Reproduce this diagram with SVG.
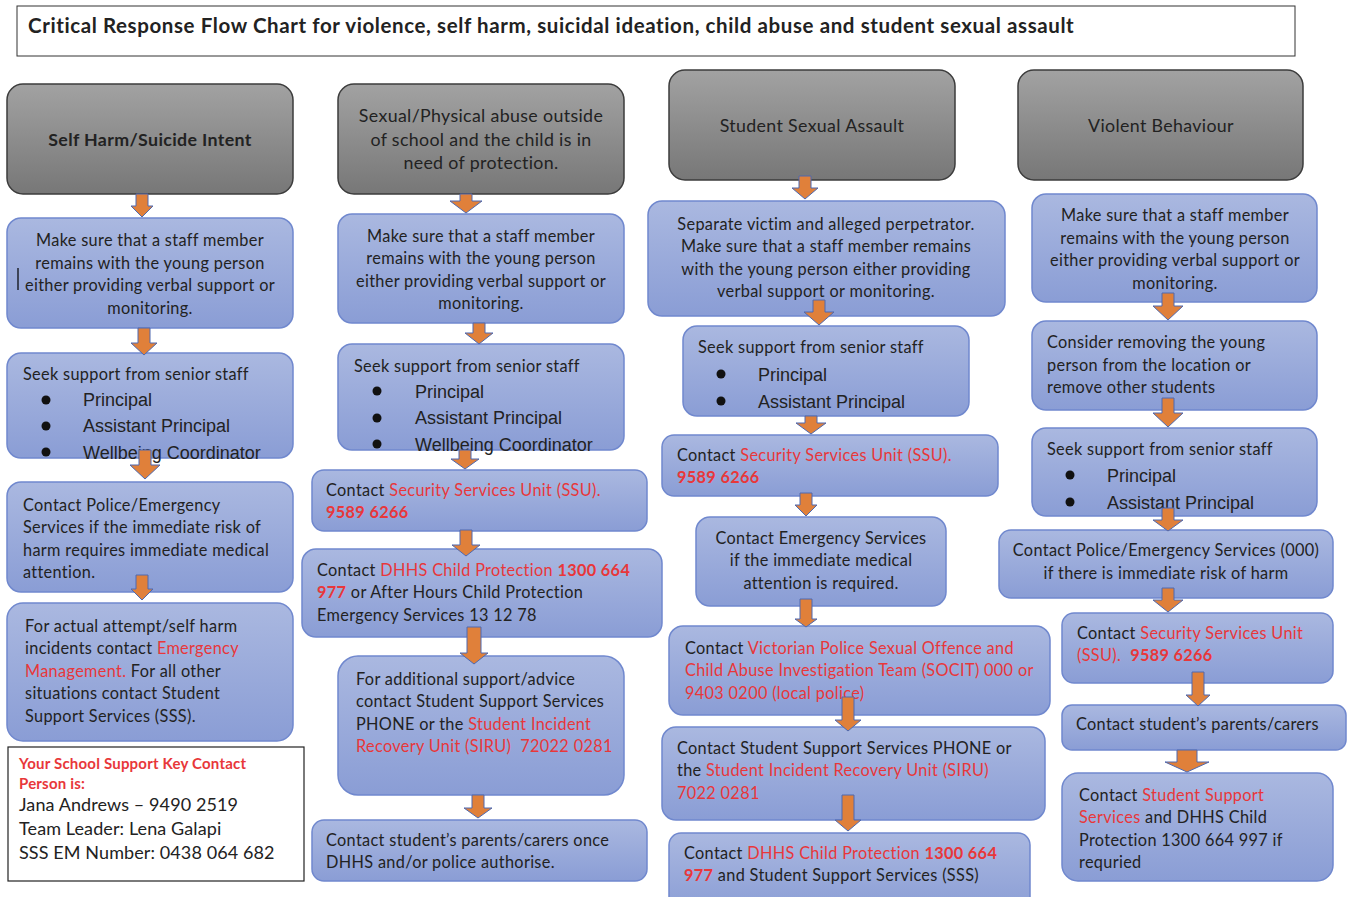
<svg xmlns="http://www.w3.org/2000/svg" width="1351" height="897" viewBox="0 0 1351 897">
<defs>
<linearGradient id="gb" x1="0" y1="0" x2="0" y2="1"><stop offset="0" stop-color="#AAB8E0"/><stop offset="1" stop-color="#8A9DD5"/></linearGradient>
<linearGradient id="gg" x1="0" y1="0" x2="0" y2="1"><stop offset="0" stop-color="#A2A2A2"/><stop offset="1" stop-color="#777777"/></linearGradient>
<style>
.b{fill:url(#gb);stroke:#7088CE;stroke-width:1.5}
.g{fill:url(#gg);stroke:#3C3C3C;stroke-width:1.5}
text{font-family:Lato,"Liberation Sans",sans-serif;font-size:16.3px;letter-spacing:0.33px;fill:#222}
.c{text-anchor:middle}
.h{font-size:17.8px;letter-spacing:0.35px}
.bl{font-family:"Liberation Sans",Arial,sans-serif;font-size:18px;letter-spacing:0}
.r{fill:#E8373A}
.rb{fill:#E8373A;font-weight:bold}
.ar{fill:#E0803A;stroke:#4E69B0;stroke-width:1}
.dot{fill:#111}
</style>
</defs>
<rect width="1351" height="897" fill="#fff"/>
<g id="title">
<rect x="17" y="6" width="1278" height="50" fill="#fff" stroke="#333" stroke-width="1"/>
<text x="28" y="33" style="font-weight:bold;font-size:20.5px;letter-spacing:0.6px">Critical Response Flow Chart for violence, self harm, suicidal ideation, child abuse and student sexual assault</text>
</g>

<!-- Column 1 -->
<g id="c1h"><rect class="g" x="7" y="84" width="286" height="110" rx="16"/><text class="c h" x="150" y="146" style="font-weight:bold">Self Harm/Suicide Intent</text></g>
<g id="c1n1"><rect class="b" x="7" y="218" width="286" height="110" rx="14"/>
<text class="c" x="150" y="246">Make sure that a staff member</text>
<text class="c" x="150" y="269">remains with the young person</text>
<text class="c" x="150" y="291">either providing verbal support or</text>
<text class="c" x="150" y="314">monitoring.</text>
<line x1="18" y1="268" x2="18" y2="290" stroke="#000" stroke-width="1.2"/></g>
<g id="c1n2"><rect class="b" x="7" y="353" width="286" height="105" rx="14"/>
<text x="23" y="380">Seek support from senior staff</text>
<circle class="dot" cx="46" cy="400" r="4.5"/><text class="bl" x="83" y="406">Principal</text>
<circle class="dot" cx="46" cy="426" r="4.5"/><text class="bl" x="83" y="432">Assistant Principal</text>
<circle class="dot" cx="46" cy="452" r="4.5"/><text class="bl" x="83" y="459">Wellbeing Coordinator</text></g>
<g id="c1n3"><rect class="b" x="7" y="482" width="286" height="110" rx="14"/>
<text x="23" y="511">Contact Police/Emergency</text>
<text x="23" y="533">Services if the immediate risk of</text>
<text x="23" y="556">harm requires immediate medical</text>
<text x="23" y="578">attention.</text></g>
<g id="c1n4"><rect class="b" x="7" y="603" width="286" height="138" rx="16"/>
<text x="25" y="632">For actual attempt/self harm</text>
<text x="25" y="654">incidents contact <tspan class="r">Emergency</tspan></text>
<text x="25" y="677"><tspan class="r">Management.</tspan> For all other</text>
<text x="25" y="699">situations contact Student</text>
<text x="25" y="722">Support Services (SSS).</text></g>
<g id="keycontact"><rect x="8" y="747" width="296" height="134" fill="#fff" stroke="#222" stroke-width="1.2"/>
<text x="19" y="769" class="rb" style="font-size:15px;letter-spacing:0.2px">Your School Support Key Contact</text>
<text x="19" y="789" class="rb" style="font-size:15px;letter-spacing:0.2px">Person is:</text>
<text x="19" y="811" style="font-size:18px;letter-spacing:0.1px">Jana Andrews – 9490 2519</text>
<text x="19" y="835" style="font-size:18px;letter-spacing:0.1px">Team Leader: Lena Galapi</text>
<text x="19" y="859" style="font-size:18px;letter-spacing:0.1px">SSS EM Number: 0438 064 682</text></g>

<!-- Column 2 -->
<g id="c2h"><rect class="g" x="338" y="84" width="286" height="110" rx="16"/>
<text class="c h" x="481" y="122">Sexual/Physical abuse outside</text>
<text class="c h" x="481" y="146">of school and the child is in</text>
<text class="c h" x="481" y="169">need of protection.</text></g>
<g id="c2n1"><rect class="b" x="338" y="214" width="286" height="109" rx="14"/>
<text class="c" x="481" y="242">Make sure that a staff member</text>
<text class="c" x="481" y="264">remains with the young person</text>
<text class="c" x="481" y="287">either providing verbal support or</text>
<text class="c" x="481" y="309">monitoring.</text></g>
<g id="c2n2"><rect class="b" x="338" y="344" width="286" height="106" rx="14"/>
<text x="354" y="372">Seek support from senior staff</text>
<circle class="dot" cx="377" cy="391" r="4.5"/><text class="bl" x="415" y="398">Principal</text>
<circle class="dot" cx="377" cy="418" r="4.5"/><text class="bl" x="415" y="424">Assistant Principal</text>
<circle class="dot" cx="377" cy="444" r="4.5"/><text class="bl" x="415" y="451">Wellbeing Coordinator</text></g>
<g id="c2n3"><rect class="b" x="312" y="470" width="335" height="61" rx="12"/>
<text x="326" y="496">Contact <tspan class="r">Security Services Unit (SSU).</tspan></text>
<text x="326" y="518" class="rb">9589 6266</text></g>
<g id="c2n4"><rect class="b" x="302" y="549" width="360" height="88" rx="14"/>
<text x="317" y="576">Contact <tspan class="r">DHHS Child Protection </tspan><tspan class="rb">1300 664</tspan></text>
<text x="317" y="598"><tspan class="rb">977</tspan> or After Hours Child Protection</text>
<text x="317" y="621">Emergency Services 13 12 78</text></g>
<g id="c2n5"><rect class="b" x="338" y="656" width="286" height="139" rx="20"/>
<text x="356" y="685">For additional support/advice</text>
<text x="356" y="707">contact Student Support Services</text>
<text x="356" y="730">PHONE or the <tspan class="r">Student Incident</tspan></text>
<text x="356" y="752" class="r">Recovery Unit (SIRU)&#160; 72022 0281</text></g>
<g id="c2n6"><rect class="b" x="312" y="820" width="335" height="61" rx="12"/>
<text x="326" y="846">Contact student’s parents/carers once</text>
<text x="326" y="868">DHHS and/or police authorise.</text></g>

<!-- Column 3 -->
<g id="c3h"><rect class="g" x="669" y="70" width="286" height="110" rx="16"/>
<text class="c h" x="812" y="132">Student Sexual Assault</text></g>
<g id="c3n1"><rect class="b" x="648" y="201" width="357" height="115" rx="14"/>
<text class="c" x="826" y="230">Separate victim and alleged perpetrator.</text>
<text class="c" x="826" y="252">Make sure that a staff member remains</text>
<text class="c" x="826" y="275">with the young person either providing</text>
<text class="c" x="826" y="297">verbal support or monitoring.</text></g>
<g id="c3n2"><rect class="b" x="683" y="326" width="286" height="90" rx="14"/>
<text x="698" y="353">Seek support from senior staff</text>
<circle class="dot" cx="721" cy="374" r="4.5"/><text class="bl" x="758" y="381">Principal</text>
<circle class="dot" cx="721" cy="401" r="4.5"/><text class="bl" x="758" y="408">Assistant Principal</text></g>
<g id="c3n3"><rect class="b" x="662" y="435" width="336" height="61" rx="12"/>
<text x="677" y="461">Contact <tspan class="r">Security Services Unit (SSU).</tspan></text>
<text x="677" y="483" class="rb">9589 6266</text></g>
<g id="c3n4"><rect class="b" x="696" y="517" width="250" height="89" rx="14"/>
<text class="c" x="821" y="544">Contact Emergency Services</text>
<text class="c" x="821" y="566">if the immediate medical</text>
<text class="c" x="821" y="589">attention is required.</text></g>
<g id="c3n5"><rect class="b" x="669" y="626" width="381" height="89" rx="14"/>
<text x="685" y="654">Contact <tspan class="r">Victorian Police Sexual Offence and</tspan></text>
<text x="685" y="676" class="r">Child Abuse Investigation Team (SOCIT) 000 or</text>
<text x="685" y="699" class="r">9403 0200 (local police)</text></g>
<g id="c3n6"><rect class="b" x="662" y="727" width="383" height="93" rx="14"/>
<text x="677" y="754">Contact Student Support Services PHONE or</text>
<text x="677" y="776">the <tspan class="r">Student Incident Recovery Unit (SIRU)</tspan></text>
<text x="677" y="799" class="r">7022 0281</text></g>
<g id="c3n7"><rect class="b" x="669" y="833" width="361" height="80" rx="12"/>
<text x="684" y="859">Contact <tspan class="r">DHHS Child Protection </tspan><tspan class="rb">1300 664</tspan></text>
<text x="684" y="881"><tspan class="rb">977</tspan> and Student Support Services (SSS)</text></g>

<!-- Column 4 -->
<g id="c4h"><rect class="g" x="1018" y="70" width="285" height="110" rx="16"/>
<text class="c h" x="1161" y="132">Violent Behaviour</text></g>
<g id="c4n1"><rect class="b" x="1032" y="194" width="285" height="108" rx="14"/>
<text class="c" x="1175" y="221">Make sure that a staff member</text>
<text class="c" x="1175" y="244">remains with the young person</text>
<text class="c" x="1175" y="266">either providing verbal support or</text>
<text class="c" x="1175" y="289">monitoring.</text></g>
<g id="c4n2"><rect class="b" x="1032" y="321" width="285" height="89" rx="14"/>
<text x="1047" y="348">Consider removing the young</text>
<text x="1047" y="371">person from the location or</text>
<text x="1047" y="393">remove other students</text></g>
<g id="c4n3"><rect class="b" x="1032" y="428" width="285" height="88" rx="14"/>
<text x="1047" y="455">Seek support from senior staff</text>
<circle class="dot" cx="1070" cy="475" r="4.5"/><text class="bl" x="1107" y="482">Principal</text>
<circle class="dot" cx="1070" cy="502" r="4.5"/><text class="bl" x="1107" y="509">Assistant Principal</text></g>
<g id="c4n4"><rect class="b" x="999" y="530" width="334" height="68" rx="12"/>
<text class="c" x="1166" y="556">Contact Police/Emergency Services (000)</text>
<text class="c" x="1166" y="579">if there is immediate risk of harm</text></g>
<g id="c4n5"><rect class="b" x="1062" y="613" width="271" height="70" rx="12"/>
<text x="1077" y="639">Contact <tspan class="r">Security Services Unit</tspan></text>
<text x="1077" y="661"><tspan class="r">(SSU).&#160; </tspan><tspan class="rb">9589 6266</tspan></text></g>
<g id="c4n6"><rect class="b" x="1062" y="705" width="284" height="45" rx="10"/>
<text x="1076" y="730">Contact student’s parents/carers</text></g>
<g id="c4n7"><rect class="b" x="1062" y="773" width="271" height="108" rx="16"/>
<text x="1079" y="801">Contact <tspan class="r">Student Support</tspan></text>
<text x="1079" y="823"><tspan class="r">Services</tspan> and DHHS Child</text>
<text x="1079" y="846">Protection 1300 664 997 if</text>
<text x="1079" y="868">requried</text></g>

<g id="connectors">
<polygon class="ar" points="136,194 148,194 148,206 153,206 142,217 131,206 136,206"/>
<polygon class="ar" points="138,328 150,328 150,343 157,343 144,355 131,343 138,343"/>
<polygon class="ar" points="139,450 151,450 151,465 160,465 145,479 130,465 139,465"/>
<polygon class="ar" points="136,575 148,575 148,589 153,589 142,600 131,589 136,589"/>

<polygon class="ar" points="460,194 472,194 472,201 482,201 466,213 450,201 460,201"/>
<polygon class="ar" points="473,323 485,323 485,333 493,333 479,344 465,333 473,333"/>
<polygon class="ar" points="459,450 471,450 471,459 479,459 465,469 451,459 459,459"/>
<polygon class="ar" points="460,530 472,530 472,545 480,545 466,556 452,545 460,545"/>
<polygon class="ar" points="467,627 481,627 481,653 488,653 474,664 460,653 467,653"/>
<polygon class="ar" points="472,795 484,795 484,808 492,808 478,818 464,808 472,808"/>

<polygon class="ar" points="799,176 811,176 811,188 818,188 805,199 792,188 799,188"/>
<polygon class="ar" points="813,300 825,300 825,312 834,312 819,325 804,312 813,312"/>
<polygon class="ar" points="805,416 817,416 817,423 826,423 811,434 796,423 805,423"/>
<polygon class="ar" points="800,493 812,493 812,505 817,505 806,516 795,505 800,505"/>
<polygon class="ar" points="800,599 812,599 812,619 817,619 806,627 795,619 800,619"/>
<polygon class="ar" points="842,697 854,697 854,720 861,720 848,731 835,720 842,720"/>
<polygon class="ar" points="842,795 854,795 854,820 861,820 848,831 835,820 842,820"/>

<polygon class="ar" points="1162,293 1174,293 1174,306 1183,306 1168,320 1153,306 1162,306"/>
<polygon class="ar" points="1162,398 1174,398 1174,413 1183,413 1168,427 1153,413 1162,413"/>
<polygon class="ar" points="1162,508 1174,508 1174,520 1183,520 1168,531 1153,520 1162,520"/>
<polygon class="ar" points="1162,588 1174,588 1174,600 1183,600 1168,612 1153,600 1162,600"/>
<polygon class="ar" points="1192,672 1204,672 1204,695 1210,695 1198,706 1186,695 1192,695"/>
<polygon class="ar" points="1177,750 1197,750 1197,762 1209,762 1187,772 1165,762 1177,762"/>
</g>
</svg>
